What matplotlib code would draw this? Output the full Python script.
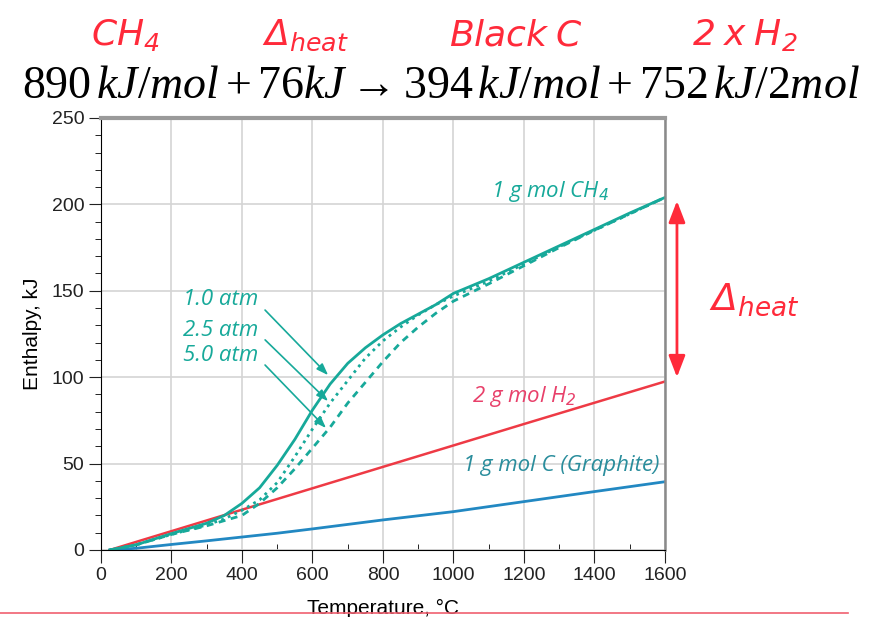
import numpy as np
import matplotlib.pyplot as plt
from matplotlib.ticker import MultipleLocator

plt.rcParams['mathtext.fontset'] = 'custom'
plt.rcParams['mathtext.rm'] = 'Liberation Serif'
plt.rcParams['mathtext.it'] = 'Liberation Serif:italic'
plt.rcParams['mathtext.sf'] = 'DejaVu Sans:italic'

# enthalpy curves (kJ vs deg C)
temps_ch4 = [25, 100, 200, 300, 350, 400, 450, 500, 550, 600, 650, 700, 750, 800,
             850, 900, 950, 1000, 1100, 1200, 1300, 1400, 1500, 1600]
ch4_1atm = [0, 3, 9.5, 15.5, 20, 27, 36, 49, 64, 81, 96, 108, 117, 124.5,
            131, 136.5, 142, 148.5, 157, 166.5, 176, 185.5, 195, 204]
ch4_25atm = [0, 3, 9, 14.5, 18, 23, 29, 39, 54, 70, 85, 98, 111, 121,
             129, 136, 142, 147, 155.5, 165.5, 175.5, 185, 194.5, 204]
ch4_5atm = [0, 3, 9, 14, 17, 20, 27, 36, 47, 59, 71, 85, 97, 109,
            120, 129, 137, 144, 154, 164.5, 175, 185, 194.5, 204]

temps_lin = [25, 100, 200, 300, 400, 500, 600, 700, 800, 900, 1000, 1200, 1400, 1600]
h2_2mol = [0, 4.7, 10.9, 17.1, 23.3, 29.5, 35.7, 41.9, 48.1, 54.3, 60.5, 72.9, 85.2, 97.5]
graphite = [0, 1, 3.2, 5.3, 7.5, 9.7, 12.2, 14.8, 17.4, 19.8, 22.2, 28, 33.8, 39.5]

teal = '#17a99a'
blue = '#2288c2'
red = '#ee3a45'
hdr_red = '#ff2a3a'

fig = plt.figure(figsize=(8.81, 6.17), dpi=100)
ax = fig.add_axes([0.1146, 0.1086, 0.6402, 0.7002])

ax.plot(temps_lin, graphite, color=blue, lw=2)
ax.plot(temps_lin, h2_2mol, color=red, lw=1.8)
ax.plot(temps_ch4, ch4_5atm, color=teal, lw=2, ls=(0, (2.5, 2)))
ax.plot(temps_ch4, ch4_25atm, color=teal, lw=2, ls=(0, (1, 1.6)))
ax.plot(temps_ch4, ch4_1atm, color=teal, lw=2)

ax.set_xlim(0, 1600)
ax.set_ylim(0, 250)
ax.xaxis.set_major_locator(MultipleLocator(200))
ax.xaxis.set_minor_locator(MultipleLocator(100))
ax.yaxis.set_major_locator(MultipleLocator(50))
ax.yaxis.set_minor_locator(MultipleLocator(10))
ax.grid(True, which='major', color='#d4d4d4', lw=1.2)
ax.set_axisbelow(True)
ax.tick_params(which='major', direction='out', length=9, pad=3, labelsize=14,
               colors='#222222')
ax.tick_params(axis='x', which='minor', direction='in', length=4)
ax.tick_params(axis='y', which='minor', direction='out', length=4)
for lab in ax.get_xticklabels() + ax.get_yticklabels():
    lab.set_family('Liberation Sans')
ax.spines['top'].set_color('#9a9a9a')
ax.spines['top'].set_linewidth(3)
ax.spines['right'].set_color('#8a8a8a')
ax.spines['right'].set_linewidth(1.8)
ax.set_xlabel('Temperature, °C', family='Liberation Sans', fontsize=15, labelpad=11)
ax.set_ylabel('Enthalpy, kJ', family='Liberation Sans', fontsize=15, labelpad=7)

# curve labels
ax.text(1107, 207.5, r'1 g mol CH$_\mathsf{4}$', family='Open Sans', style='italic',
        fontsize=16, color=teal, va='center')
ax.text(1052, 88.7, r'2 g mol H$_\mathsf{2}$', family='Open Sans', style='italic',
        fontsize=16, color='#e8406a', va='center')
ax.text(1028, 49, '1 g mol C (Graphite)', family='Open Sans', style='italic',
        fontsize=16, color='#2a8d9c', va='center')

# pressure labels with arrows
atm_labels = ['1.0 atm', '2.5 atm', '5.0 atm']
label_y = [144.7, 127.3, 112.3]
tail_y = [140, 122.7, 108.2]
head_pts = [(650, 100), (650, 85), (644, 69.4)]
for lab, ly, ty, hp in zip(atm_labels, label_y, tail_y, head_pts):
    ax.text(445, ly, lab, family='Open Sans', style='italic', fontsize=16,
            color=teal, ha='right', va='center')
    ax.annotate('', xy=hp, xytext=(460, ty),
                arrowprops=dict(arrowstyle='-|>,head_width=0.25,head_length=0.7',
                                color=teal, lw=1.2))

# red double arrow to the right of the axes
ax.annotate('', xy=(1634, 202), xytext=(1634, 100), annotation_clip=False,
            arrowprops=dict(arrowstyle='<|-|>,head_width=0.5,head_length=1.3',
                            color=hdr_red, lw=2, shrinkA=0, shrinkB=0))
fig.text(0.805, 0.515, r'$\mathsf{\Delta_{heat}}$', fontsize=27, color=hdr_red,
         ha='left', va='center')

# header
hdr = [(0.142, r'$\mathsf{CH_4}$'), (0.347, r'$\mathsf{\Delta_{heat}}$'),
       (0.585, r'$\mathsf{Black\ C}$'), (0.845, r'$\mathsf{2\ x\ H_2}$')]
for xx, s in hdr:
    fig.text(xx, 0.943, s, fontsize=26, color=hdr_red, ha='center', va='center')
fig.text(0.5, 0.862, r'$890\,kJ/mol + 76kJ \rightarrow 394\,kJ/mol + 752\,kJ/2mol$',
         fontsize=33, color='black', ha='center', va='center')

# bottom rule
fig.add_artist(plt.Line2D([0, 0.963], [0.007, 0.007], color='#f06070', lw=1.2))

fig.savefig('out.png', dpi=100)
